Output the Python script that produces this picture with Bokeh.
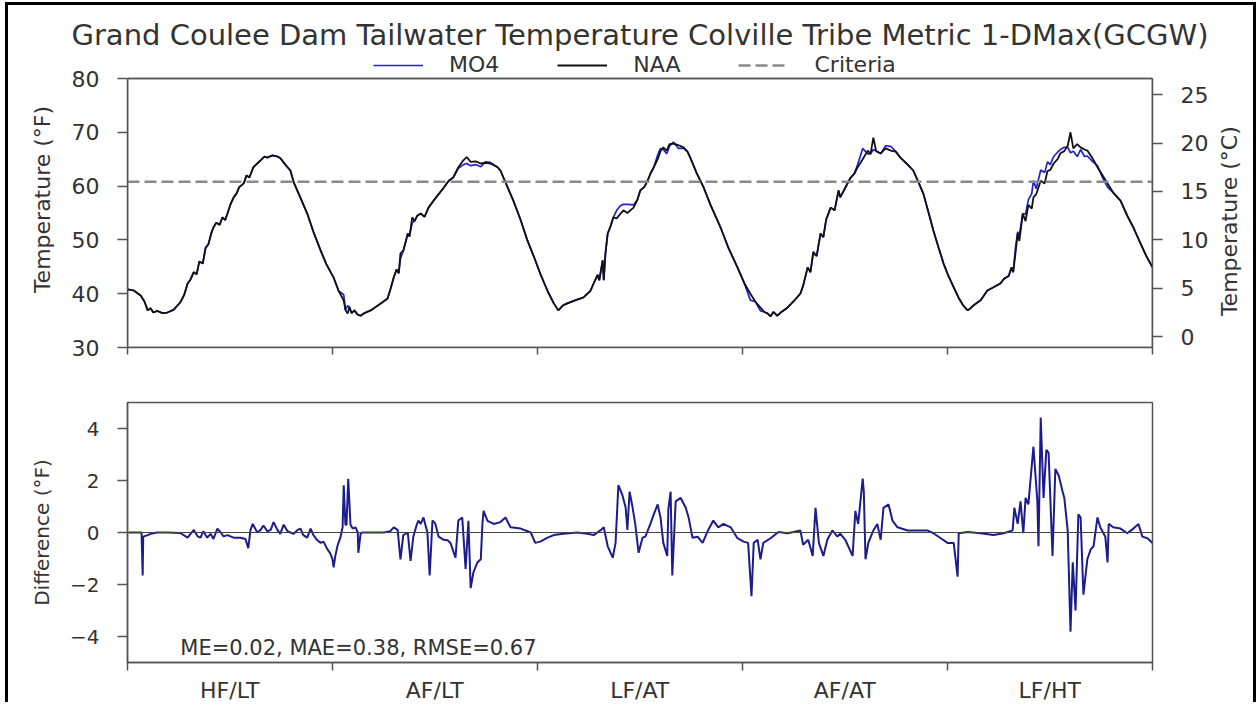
import math
from bokeh.plotting import figure
from bokeh.models import Range1d, LinearAxis, FixedTicker, Span, Legend, LegendItem, Label, BoxAnnotation
from bokeh.layouts import column, row
from bokeh.embed import file_html
from bokeh.resources import INLINE

# ---------------- data ----------------
TITLE = "Grand Coulee Dam Tailwater Temperature Colville Tribe Metric 1-DMax(GCGW)"
YEAR_LABELS = ["HF/LT", "AF/LT", "LF/AT", "AF/AT", "LF/HT"]
YEAR_BOUNDS = [0, 365, 730, 1095, 1460, 1825]
F_TICKS = [30, 40, 50, 60, 70, 80]
C_TICKS = [0, 5, 10, 15, 20, 25]
D_TICKS = [-4, -2, 0, 2, 4]
CRITERIA_C = 16.0
ME, MAE, RMSE = 0.02, 0.38, 0.67

day_t = [0, 11, 23, 30, 36, 41, 46, 53, 62, 71, 82, 94, 101, 107, 112, 118, 123, 128, 134, 139, 144, 150, 153, 158, 164, 169, 174, 178, 183, 189, 194, 199, 207, 212, 217, 224, 231, 237, 244, 249, 258, 267, 272, 281, 290, 296, 308, 320, 331, 344, 354,
         367, 376, 385, 388, 392, 395, 399, 404, 410, 415, 422, 433, 443, 454, 463, 468, 474, 479, 483, 486, 491, 495, 499, 502, 507, 511, 516, 522, 529, 536, 545, 554, 563, 572, 580, 589, 598, 604, 611, 620, 629, 637, 646, 659, 664, 677, 687, 700, 712, 725,
         735, 748, 759, 767, 775, 783, 798, 812, 824, 830, 837, 840, 846, 848, 851, 855, 860, 865, 871, 878, 883, 890, 901, 908, 913, 920, 926, 931, 937, 944, 949, 954, 960, 965, 972, 981, 990, 997, 1002, 1013, 1026, 1038, 1056, 1070, 1086,
         1098, 1109, 1118, 1127, 1134, 1140, 1145, 1150, 1157, 1163, 1175, 1186, 1198, 1203, 1211, 1216, 1221, 1227, 1234, 1239, 1244, 1252, 1259, 1266, 1269, 1278, 1287, 1294, 1300, 1309, 1318, 1323, 1328, 1333, 1341, 1350, 1359, 1368, 1376, 1389, 1399, 1408, 1417, 1426, 1435, 1444, 1453,
         1462, 1471, 1480, 1488, 1496, 1501, 1506, 1519, 1531, 1542, 1554, 1561, 1569, 1574, 1577, 1581, 1585, 1588, 1594, 1599, 1604, 1610, 1613, 1618, 1626, 1633, 1638, 1643, 1649, 1656, 1661, 1668, 1674, 1679, 1684, 1691, 1697, 1704, 1709, 1718, 1727, 1736, 1745, 1755, 1768, 1780, 1791, 1803, 1814, 1825]

naa_f = [40.8, 40.6, 39.7, 38.6, 36.9, 37.3, 36.5, 36.8, 36.4, 36.5, 37.0, 38.4, 39.8, 41.9, 42.6, 44.0, 43.6, 46.0, 45.6, 48.5, 49.2, 51.5, 52.3, 53.2, 52.8, 54.2, 53.7, 54.9, 56.5, 57.9, 58.6, 59.8, 60.5, 62.0, 61.6, 63.5, 64.2, 64.8, 65.5, 65.3, 65.7, 65.5, 65.2, 64.0, 62.9, 60.7, 57.8, 54.9, 51.5, 48.0, 45.5,
         43.0, 40.5, 38.7, 37.0, 36.3, 37.5, 36.4, 36.9, 36.1, 35.9, 36.4, 36.9, 37.6, 38.4, 39.1, 40.8, 43.0, 44.5, 43.8, 47.5, 48.0, 49.5, 51.2, 50.6, 54.2, 53.5, 54.5, 54.9, 54.3, 56.0, 57.3, 58.5, 59.7, 61.0, 61.6, 63.5, 64.8, 65.4, 64.5, 64.6, 64.2, 64.3, 64.2, 63.5, 62.9, 59.7, 57.3, 53.7, 49.9, 46.5,
         43.7, 40.5, 38.2, 36.9, 37.8, 38.2, 38.8, 39.3, 40.5, 41.9, 43.5, 42.5, 46.2, 42.5, 47.5, 51.2, 52.5, 54.2, 54.0, 54.9, 55.5, 55.0, 56.0, 57.5, 59.2, 59.8, 61.0, 62.3, 63.5, 65.0, 66.5, 67.2, 66.6, 67.8, 67.9, 67.6, 67.2, 66.4, 65.3, 62.5, 59.7, 56.5, 52.3, 48.5, 44.9,
         42.0, 40.0, 38.5, 37.4, 36.6, 36.3, 35.8, 36.6, 35.9, 36.5, 37.4, 38.6, 40.0, 41.5, 44.9, 44.0, 47.8, 47.0, 51.2, 50.5, 53.8, 56.0, 55.5, 59.2, 57.9, 59.7, 61.5, 62.3, 63.5, 65.0, 66.6, 66.0, 69.0, 66.5, 66.1, 67.0, 66.6, 66.4, 65.3, 64.0, 62.9, 60.8, 58.6, 55.2, 51.7, 48.6, 45.6,
         43.2, 41.2, 39.2, 37.8, 36.9, 37.3, 37.8, 38.8, 40.6, 41.2, 41.9, 42.8, 43.3, 44.9, 44.0, 47.5, 51.2, 49.8, 54.9, 53.5, 56.5, 55.8, 57.9, 58.5, 61.0, 60.5, 62.8, 63.0, 64.2, 65.0, 66.1, 66.5, 67.5, 70.0, 67.0, 67.8, 67.2, 66.8, 66.6, 65.2, 63.5, 62.0, 60.5, 58.8, 57.3, 54.5, 52.3, 49.5, 47.0, 44.9]

mo4_f = [40.8, 40.6, 39.7, 38.6, 36.9, 37.3, 36.5, 36.8, 36.4, 36.5, 37.0, 38.4, 39.8, 41.9, 42.6, 44.0, 43.6, 46.0, 45.6, 48.5, 49.2, 51.5, 52.3, 53.2, 52.8, 54.2, 53.7, 54.9, 56.5, 57.9, 58.6, 59.8, 60.5, 62.0, 61.6, 63.5, 64.2, 64.8, 65.5, 65.3, 65.7, 65.5, 65.2, 64.0, 62.9, 60.7, 57.8, 54.9, 51.5, 48.0, 45.5,
         43.0, 40.5, 39.8, 37.0, 37.8, 37.5, 36.4, 36.9, 36.1, 35.9, 36.4, 36.9, 37.6, 38.4, 39.1, 40.8, 43.0, 44.5, 43.8, 46.5, 48.0, 49.5, 51.2, 50.6, 53.2, 53.5, 54.5, 54.9, 54.3, 56.0, 57.3, 58.5, 59.7, 61.0, 61.6, 63.3, 64.0, 64.2, 63.8, 64.0, 63.6, 64.5, 64.4, 63.5, 62.9, 59.7, 57.3, 53.7, 49.9, 46.5,
         43.7, 40.5, 38.2, 36.9, 37.8, 38.2, 38.8, 39.3, 40.5, 41.9, 43.5, 42.5, 46.2, 42.5, 47.5, 51.2, 52.5, 54.2, 55.5, 56.4, 56.6, 56.6, 56.5, 57.5, 59.2, 59.8, 61.0, 62.3, 63.5, 65.8, 67.0, 66.8, 66.0, 67.4, 68.2, 67.0, 67.0, 66.4, 65.3, 62.5, 59.7, 56.5, 52.3, 48.5, 44.9,
         42.0, 38.8, 38.5, 36.8, 36.6, 36.3, 35.8, 36.6, 35.9, 36.5, 37.4, 38.6, 40.0, 41.5, 44.9, 44.0, 47.5, 47.0, 51.2, 50.5, 53.8, 56.0, 55.5, 59.2, 57.9, 59.7, 61.5, 62.3, 64.0, 67.0, 66.0, 66.0, 66.8, 66.5, 66.0, 67.5, 67.4, 66.4, 65.3, 64.0, 62.9, 60.8, 58.6, 55.2, 51.7, 48.6, 45.6,
         43.2, 41.2, 39.2, 37.8, 36.9, 37.3, 37.8, 38.8, 40.6, 41.2, 41.9, 42.8, 43.3, 44.9, 44.0, 48.5, 51.5, 51.0, 54.9, 54.8, 57.5, 58.6, 61.0, 59.5, 63.0, 62.5, 64.5, 64.0, 65.5, 66.3, 66.8, 67.2, 67.2, 66.2, 66.5, 65.5, 66.8, 65.5, 65.6, 64.6, 63.8, 61.6, 59.8, 58.8, 57.3, 54.5, 52.3, 49.5, 47.0, 44.9]

day_d = [2, 18, 25, 27, 28, 36, 41, 53, 71, 94, 107, 118, 125, 130, 135, 142, 148, 153, 160, 166, 171, 178, 189, 201, 210, 215, 219, 223, 231, 237, 242, 249, 255, 260, 267, 272, 278, 285, 290, 296, 303, 308, 313, 320, 326, 331, 338, 344, 349, 356, 361, 365,
         367, 370, 374, 379, 383, 385, 388, 390, 393, 397, 401, 406, 410, 411, 415, 418, 433, 456, 468, 474, 481, 486, 491, 499, 504, 509, 515, 518, 522, 527, 534, 538, 543, 548, 554, 563, 570, 575, 584, 589, 596, 602, 607, 611, 616, 623, 629, 632, 634, 641, 652, 664, 673, 682, 700, 718, 726,
         735, 748, 759, 776, 801, 819, 830, 842, 848, 855, 864, 869, 874, 881, 887, 890, 894, 899, 904, 910, 917, 922, 931, 937, 944, 949, 954, 961, 963, 967, 970, 976, 985, 994, 999, 1006, 1015, 1024, 1034, 1043, 1052, 1061, 1074, 1086,
         1097, 1105, 1111, 1115, 1122, 1127, 1132, 1145, 1159, 1175, 1186, 1198, 1203, 1212, 1220, 1225, 1231, 1239, 1246, 1255, 1264, 1269, 1278, 1291, 1296, 1301, 1309, 1311, 1314, 1319, 1328, 1335, 1341, 1346, 1355, 1362, 1371, 1389, 1407, 1424, 1435, 1448, 1460,
         1471, 1478, 1480, 1496, 1519, 1542, 1560, 1576, 1579, 1585, 1590, 1595, 1599, 1604, 1611, 1613, 1620, 1622, 1626, 1631, 1636, 1640, 1647, 1652, 1658, 1665, 1668, 1674, 1679, 1683, 1688, 1693, 1697, 1702, 1709, 1715, 1720, 1727, 1732, 1741, 1745, 1747, 1755, 1768, 1780, 1791, 1800, 1807, 1816, 1825]

diff_f = [0.0, 0.0, 0.0, -1.65, -0.16, -0.1, -0.05, 0.0, 0.0, -0.02, -0.2, 0.1, -0.15, -0.2, 0.05, -0.2, -0.05, -0.25, 0.15, 0.0, -0.15, -0.1, -0.2, -0.2, -0.25, -0.6, 0.1, 0.33, 0.0, 0.1, 0.27, 0.05, 0.1, 0.4, 0.1, -0.05, 0.3, 0.05, 0.0, -0.05, 0.1, 0.15, -0.1, -0.2, 0.15, -0.1, -0.3, -0.4, -0.35, -0.65, -0.8, -1.03,
          -1.34, -0.9, -0.5, -0.2, 0.2, 1.82, 0.3, 0.3, 2.07, 0.3, 0.15, 0.2, 0.0, -0.78, -0.05, 0.0, 0.0, 0.0, 0.05, 0.2, 0.1, -1.03, -0.1, 0.0, -1.09, -0.15, 0.3, 0.46, 0.33, 0.58, 0.0, -1.65, 0.46, 0.35, -0.16, -0.28, -0.3, -0.4, -0.97, 0.46, 0.58, -1.4, 0.45, -2.14, -1.52, -1.15, -1.03, 0.35, 0.83, 0.45, 0.33, 0.4, 0.58, 0.2, 0.15, 0.0, -0.4,
          -0.35, -0.2, -0.1, -0.05, 0.0, -0.05, -0.1, 0.08, 0.2, -0.53, -0.97, -0.4, 1.82, 1.45, 0.95, 0.1, 1.57, 1.0, 0.33, -0.78, -0.2, -0.16, 0.33, 0.7, 1.08, 0.58, -0.4, -0.9, 0.9, 1.57, -1.65, 1.2, 1.33, 0.95, 0.58, -0.2, -0.16, -0.4, 0.1, 0.46, 0.2, 0.33, 0.2, -0.22,
          -0.35, -0.4, -2.45, -0.4, -0.28, -1.03, -0.4, -0.22, 0.02, -0.03, 0.02, 0.08, -0.47, -0.28, -0.9, 0.95, -0.4, -0.9, -0.28, 0.08, -0.16, -0.04, -0.28, -0.9, 0.83, 0.33, 2.07, 1.57, -1.03, -0.4, 0.08, 0.33, -0.28, 0.95, 1.08, 0.46, 0.2, 0.08, 0.08, 0.08, -0.03, -0.22, -0.4,
          -0.4, -1.7, -0.03, 0.02, -0.03, -0.1, -0.03, 0.08, 0.95, 0.33, 1.2, -0.03, 1.33, 1.08, 2.81, 3.3, 1.2, -0.53, 4.42, 1.33, 3.18, 3.06, -0.9, 2.44, 2.19, 1.57, 1.33, 0.08, -3.82, -1.15, -3.0, 0.7, 0.58, -2.39, -1.03, -0.65, -0.53, 0.58, 0.2, -0.16, -1.15, 0.33, 0.2, 0.15, -0.03, 0.15, 0.33, -0.16, -0.22, -0.4]

assert len(day_t) == len(naa_f) == len(mo4_f), (len(day_t), len(naa_f), len(mo4_f))
assert len(day_d) == len(diff_f), (len(day_d), len(diff_f))

CRITERIA_F = CRITERIA_C * 9 / 5 + 32
YEAR_CENTERS = [(a + b) // 2 for a, b in zip(YEAR_BOUNDS[:-1], YEAR_BOUNDS[1:])]

# ---------------- layout / styling ----------------
FONT = "DejaVu Sans"
TXT = "#333333"
AX = "#555555"
BLUE = "#2323cc"
NAVY = "#1c1c8c"
W = 1245            # full content width
ML = 119            # left border -> axes left at page x=127
FW = 1025           # axes width
W1 = 1204           # top plot width (deg C title sits in a narrow strip after it)
H1, H2 = 362, 338
AXES_PX = 269       # height of the 30..80 F axes box
HEADER_PX = 27      # legend strip kept inside the top frame, above the axes box
Y_LO, Y_HI = F_TICKS[0], F_TICKS[-1]
Y_TOP = Y_HI + HEADER_PX * (Y_HI - Y_LO) / AXES_PX


def style_y(ax, size):
    ax.axis_line_color = AX
    ax.axis_line_width = 1.5
    ax.major_tick_line_color = AX
    ax.major_tick_line_width = 1.5
    ax.major_tick_in = 0
    ax.major_tick_out = 10
    ax.minor_tick_line_color = None
    ax.major_label_standoff = 18
    ax.major_label_text_font = FONT
    ax.major_label_text_font_size = size
    ax.major_label_text_color = TXT
    ax.axis_label_text_font = FONT
    ax.axis_label_text_font_size = size
    ax.axis_label_text_font_style = "normal"
    ax.axis_label_text_color = TXT
    ax.axis_label_standoff = 14


def style_x(ax):
    ax.axis_line_color = AX
    ax.axis_line_width = 1.5
    ax.major_tick_line_color = AX
    ax.minor_tick_line_color = AX
    ax.minor_tick_line_width = 1.5
    ax.major_tick_in = 0
    ax.minor_tick_in = 0


# ---------------- top panel ----------------
p1 = figure(width=W1, height=H1, output_backend="svg", toolbar_location=None,
            x_range=Range1d(YEAR_BOUNDS[0], YEAR_BOUNDS[-1]),
            y_range=Range1d(Y_LO, Y_TOP), title=TITLE,
            min_border_left=ML, min_border_right=W1 - ML - FW,
            min_border_top=46, min_border_bottom=20)
p1.title.align = "center"
p1.title.text_font = FONT
p1.title.text_font_size = "29px"
p1.title.text_font_style = "normal"
p1.title.text_color = TXT
p1.title.standoff = 0
p1.grid.visible = False
p1.outline_line_color = None

# outline of the 30..80 F axes box (the frame itself also holds the legend strip)
p1.add_layout(BoxAnnotation(bottom=Y_LO, top=Y_HI, fill_alpha=0, fill_color=None,
                            line_color=AX, line_width=1.6, line_alpha=1, level="underlay"))

r_mo4 = p1.line(day_t, mo4_f, line_color=BLUE, line_width=1.7)
r_naa = p1.line(day_t, naa_f, line_color="#111111", line_width=1.8)
r_crit = p1.line([YEAR_BOUNDS[0], YEAR_BOUNDS[-1]], [CRITERIA_F, CRITERIA_F],
                 line_color="#8a8a8a", line_width=2.5, line_dash="12 5")
p1.add_layout(Span(location=Y_HI, dimension="width", line_color=AX, line_width=1.6))

yl = p1.yaxis[0]
yl.ticker = FixedTicker(ticks=F_TICKS)
yl.bounds = (Y_LO, Y_HI)
yl.axis_label = "Temperature (°F)"
style_y(yl, "22px")

p1.extra_y_ranges = {"degC": Range1d((Y_LO - 32) / 1.8, (Y_TOP - 32) / 1.8)}
yr = LinearAxis(y_range_name="degC", ticker=FixedTicker(ticks=C_TICKS),
                bounds=((Y_LO - 32) / 1.8, (Y_HI - 32) / 1.8))
style_y(yr, "22px")
p1.add_layout(yr, "right")

xt = p1.xaxis[0]
xt.ticker = FixedTicker(ticks=[], minor_ticks=YEAR_BOUNDS)
style_x(xt)
xt.minor_tick_out = 7
xt.major_tick_out = 0
xt.major_label_text_font_size = "0px"

leg = Legend(items=[LegendItem(label="MO4", renderers=[r_mo4]),
                    LegendItem(label="NAA", renderers=[r_naa]),
                    LegendItem(label="Criteria", renderers=[r_crit])],
             orientation="horizontal", location=(246, AXES_PX + 1),
             glyph_width=50, glyph_height=20, label_standoff=26, spacing=58,
             padding=0, margin=0, border_line_color=None, background_fill_color=None,
             background_fill_alpha=0,
             label_text_font=FONT, label_text_font_size="22px", label_text_color=TXT)
p1.add_layout(leg)

# narrow strip holding the right-hand (deg C) axis title, read bottom-to-top
pR = figure(width=W - W1, height=H1, output_backend="svg", toolbar_location=None,
            x_range=Range1d(0, W - W1), y_range=Range1d(0, H1),
            x_axis_location=None, y_axis_location=None, min_border=0)
pR.title.visible = False
pR.grid.visible = False
pR.outline_line_color = None
pR.add_layout(Label(x=17, y=H1 - 207.5, text="Temperature (°C)", angle=math.pi / 2,
                    text_align="center", text_baseline="middle", text_font=FONT,
                    text_font_size="22px", text_color=TXT))

# ---------------- bottom panel ----------------
p2 = figure(width=W, height=H2, output_backend="svg", toolbar_location=None,
            x_range=Range1d(YEAR_BOUNDS[0], YEAR_BOUNDS[-1]), y_range=Range1d(-5, 5),
            min_border_left=ML, min_border_right=W - ML - FW, min_border_top=35, min_border_bottom=33)
p2.grid.visible = False
p2.outline_line_color = AX
p2.outline_line_width = 1.5
p2.outline_line_alpha = 1

p2.add_layout(Span(location=0, dimension="width", line_color="#444444", line_width=1))
p2.line(day_d, diff_f, line_color=NAVY, line_width=2)

yd = p2.yaxis[0]
yd.ticker = FixedTicker(ticks=D_TICKS)
yd.major_label_overrides = {t: ("\u2212" + str(abs(t)) if t < 0 else str(t)) for t in D_TICKS}
yd.axis_label = "Difference (°F)"
style_y(yd, "20px")
yd.axis_label_standoff = 13

xb = p2.xaxis[0]
xb.ticker = FixedTicker(ticks=YEAR_CENTERS, minor_ticks=YEAR_BOUNDS)
xb.major_label_overrides = {c: lab for c, lab in zip(YEAR_CENTERS, YEAR_LABELS)}
style_x(xb)
xb.major_tick_out = 0
xb.minor_tick_out = 8
xb.major_label_standoff = 7
xb.major_label_text_font = FONT
xb.major_label_text_font_size = "22px"
xb.major_label_text_color = TXT

p2.add_layout(Label(x=94, y=-4.45, text=f"ME={ME:.2f}, MAE={MAE:.2f}, RMSE={RMSE:.2f}",
                    text_font=FONT, text_font_size="21px", text_color=TXT,
                    text_baseline="alphabetic"))

layout = column(row(p1, pR), p2,
                styles={"margin-left": "8px", "margin-top": "5px",
                        "box-shadow": "-3px -3px 0 0 #000000, 3px -3px 0 0 #000000"})
open("out.html", "w").write(file_html(layout, INLINE))
